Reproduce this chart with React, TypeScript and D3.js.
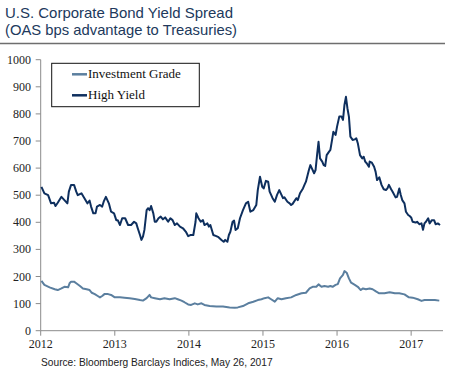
import React from 'react';
import * as d3 from 'd3';

// High Yield OAS (bps), dates as decimal years
const hyDates = [
  2012.01, 2012.05, 2012.10, 2012.14, 2012.18, 2012.20, 2012.23, 2012.28, 2012.32, 2012.36,
  2012.38, 2012.41, 2012.45, 2012.48, 2012.50, 2012.55, 2012.59, 2012.63, 2012.66, 2012.68,
  2012.71, 2012.74, 2012.76, 2012.80, 2012.83, 2012.85, 2012.88, 2012.92, 2012.95, 2012.99,
  2013.02, 2013.04, 2013.07, 2013.10, 2013.14, 2013.18, 2013.22, 2013.26, 2013.29, 2013.31,
  2013.34, 2013.36, 2013.38, 2013.40, 2013.43, 2013.45, 2013.47, 2013.49, 2013.52, 2013.54,
  2013.56, 2013.59, 2013.62, 2013.65, 2013.68, 2013.72, 2013.75, 2013.78, 2013.81, 2013.84,
  2013.88, 2013.92, 2013.96, 2013.99, 2014.02, 2014.06, 2014.09, 2014.10, 2014.13, 2014.16,
  2014.19, 2014.21, 2014.25, 2014.27, 2014.29, 2014.33, 2014.37, 2014.40, 2014.44, 2014.47,
  2014.49, 2014.52, 2014.54, 2014.56, 2014.59, 2014.61, 2014.63, 2014.66, 2014.69, 2014.73,
  2014.77, 2014.80, 2014.83, 2014.87, 2014.91, 2014.93, 2014.96, 2014.99, 2015.01, 2015.04,
  2015.07, 2015.09, 2015.13, 2015.16, 2015.19, 2015.22, 2015.25, 2015.27, 2015.29, 2015.33,
  2015.36, 2015.38, 2015.40, 2015.45, 2015.47, 2015.50, 2015.54, 2015.56, 2015.58, 2015.62,
  2015.64, 2015.66, 2015.69, 2015.71, 2015.73, 2015.75, 2015.77, 2015.80, 2015.82, 2015.84,
  2015.86, 2015.89, 2015.91, 2015.94, 2015.95, 2015.98, 2016.00, 2016.03, 2016.06, 2016.08,
  2016.10, 2016.12, 2016.14, 2016.16, 2016.18, 2016.21, 2016.24, 2016.26, 2016.28, 2016.31,
  2016.34, 2016.36, 2016.38, 2016.40, 2016.43, 2016.44, 2016.47, 2016.50, 2016.52, 2016.54,
  2016.57, 2016.60, 2016.63, 2016.66, 2016.68, 2016.70, 2016.73, 2016.75, 2016.79, 2016.81,
  2016.84, 2016.86, 2016.88, 2016.91, 2016.93, 2016.96, 2016.98, 2017.00, 2017.02, 2017.06,
  2017.08, 2017.11, 2017.14, 2017.16, 2017.18, 2017.20, 2017.23, 2017.25, 2017.28, 2017.31,
  2017.33, 2017.36, 2017.39,
];
const hyValues = [
  531, 507, 500, 470, 472, 460, 472, 494, 482, 470,
  513, 538, 538, 513, 500, 507, 489, 470, 480, 458,
  433, 433, 458, 464, 458, 476, 494, 470, 439, 433,
  408, 408, 390, 415, 415, 390, 390, 402, 396, 378,
  353, 335, 347, 372, 445, 452, 445, 460, 433, 402,
  402, 415, 421, 411, 418, 402, 415, 408, 390, 396,
  384, 378, 365, 349, 353, 353, 402, 433, 415, 402,
  408, 390, 396, 384, 390, 353, 349, 345, 335, 328,
  335, 328, 353, 365, 402, 406, 372, 378, 415, 445,
  470, 476, 439, 445, 464, 519, 568, 531, 525, 553,
  550, 513, 489, 476, 501, 519, 501, 489, 492, 476,
  470, 464, 468, 489, 482, 507, 525, 538, 550, 593,
  611, 599, 581, 593, 648, 697, 636, 624, 611, 608,
  648, 660, 667, 716, 734, 722, 753, 790, 790, 778,
  833, 863, 821, 790, 716, 704, 706, 710, 692, 648,
  636, 642, 624, 618, 605, 624, 620, 605, 587, 556,
  566, 538, 522, 519, 525, 538, 522, 513, 492, 494,
  525, 501, 482, 470, 439, 427, 423, 418, 402, 399,
  402, 393, 396, 372, 396, 402, 415, 396, 408, 408,
  393, 396, 390,
];

// Investment Grade OAS (bps)
const igDates = [
  2012.01, 2012.05, 2012.12, 2012.19, 2012.23, 2012.28, 2012.32, 2012.37, 2012.39, 2012.41,
  2012.45, 2012.48, 2012.53, 2012.57, 2012.62, 2012.66, 2012.69, 2012.73, 2012.77, 2012.80,
  2012.83, 2012.86, 2012.91, 2012.95, 2013.00, 2013.07, 2013.13, 2013.20, 2013.27, 2013.34,
  2013.38, 2013.43, 2013.47, 2013.49, 2013.54, 2013.61, 2013.67, 2013.74, 2013.81, 2013.85,
  2013.90, 2013.94, 2013.99, 2014.03, 2014.08, 2014.12, 2014.17, 2014.21, 2014.28, 2014.37,
  2014.46, 2014.55, 2014.62, 2014.66, 2014.73, 2014.80, 2014.87, 2014.93, 2014.98, 2015.02,
  2015.07, 2015.11, 2015.16, 2015.20, 2015.25, 2015.31, 2015.38, 2015.45, 2015.52, 2015.58,
  2015.63, 2015.67, 2015.72, 2015.75, 2015.79, 2015.83, 2015.88, 2015.91, 2015.94, 2015.98,
  2016.01, 2016.04, 2016.08, 2016.10, 2016.13, 2016.16, 2016.19, 2016.24, 2016.28, 2016.32,
  2016.35, 2016.39, 2016.44, 2016.48, 2016.53, 2016.57, 2016.64, 2016.71, 2016.78, 2016.84,
  2016.91, 2016.97, 2017.02, 2017.09, 2017.14, 2017.18, 2017.25, 2017.32, 2017.38,
];
const igValues = [
  184, 169, 160, 153, 150, 156, 162, 160, 175, 181,
  181, 175, 165, 156, 153, 150, 140, 135, 128, 123,
  128, 135, 135, 132, 123, 123, 122, 120, 117, 113,
  111, 120, 132, 123, 120, 116, 120, 116, 120, 116,
  111, 105, 97, 95, 101, 97, 101, 95, 91, 89,
  89, 86, 85, 86, 91, 101, 107, 113, 116, 120,
  123, 116, 107, 120, 116, 120, 123, 132, 138, 140,
  156, 162, 162, 171, 162, 165, 162, 165, 162, 169,
  172, 193, 206, 220, 214, 193, 177, 169, 162, 150,
  156, 153, 156, 153, 144, 138, 138, 142, 138, 138,
  134, 123, 122, 116, 110, 113, 113, 113, 111,
];

const yTicks = [0, 100, 200, 300, 400, 500, 600, 700, 800, 900, 1000];
const xTicks = [2012, 2013, 2014, 2015, 2016, 2017];
const seriesNames = ['Investment Grade', 'High Yield'];
const titleLines = ['U.S. Corporate Bond Yield Spread', '(OAS bps advantage to Treasuries)'];

const W = 450;
const H = 373;
const HY_COLOR = '#0e2f5e';
const IG_COLOR = '#5b7f9f';
const AXIS_COLOR = '#8c8c8c';
const SERIF = '"Liberation Serif", "DejaVu Serif", serif';

export default function App() {
  const x = d3.scaleLinear().domain([2012, 2017.43]).range([40.7, 443]);
  const y = d3.scaleLinear().domain([0, 1000]).range([330.7, 59.7]);

  const line = d3
    .line<[number, number]>()
    .x((d) => x(d[0]))
    .y((d) => y(d[1]))
    .curve(d3.curveLinear);

  const hyPath = line(hyDates.map((d, i) => [d, hyValues[i]]) as [number, number][]) || '';
  const igPath = line(igDates.map((d, i) => [d, igValues[i]]) as [number, number][]) || '';

  const legend = { x: 51.7, y: 63.3, w: 147.6, h: 43.4 };
  const legendColors = [IG_COLOR, HY_COLOR];
  const titleWidths = [228, 232];

  return (
    <svg
      width={W}
      height={H}
      viewBox={`0 0 ${W} ${H}`}
      style={{ position: 'absolute', left: 0, top: 0, background: '#fff' }}
    >
      {/* title */}
      <g fontFamily='"Liberation Sans", Arial, sans-serif' fill="#21395c" fontSize={14.6}>
        {titleLines.map((t, i) => (
          <text
            key={t}
            x={5}
            y={17.5 + i * 17.3}
            textLength={titleWidths[i]}
            lengthAdjust="spacingAndGlyphs"
          >
            {t}
          </text>
        ))}
      </g>
      <line x1={0} x2={445} y1={43.5} y2={43.5} stroke="#6e6e6e" strokeWidth={1.5} />

      {/* y axis */}
      <line x1={x.range()[0]} x2={x.range()[0]} y1={y(1000)} y2={y(0)} stroke={AXIS_COLOR} />
      {yTicks.map((t) => (
        <g key={t}>
          <line x1={x.range()[0] - 5} x2={x.range()[0]} y1={y(t)} y2={y(t)} stroke={AXIS_COLOR} />
          <text
            x={31}
            y={y(t) + 4}
            textAnchor="end"
            fontFamily={SERIF}
            fontSize={12}
            fill="#222"
          >
            {t}
          </text>
        </g>
      ))}

      {/* x axis */}
      <line x1={x.range()[0]} x2={x.range()[1]} y1={y(0)} y2={y(0)} stroke={AXIS_COLOR} />
      {xTicks.map((t) => (
        <g key={t}>
          <line x1={x(t)} x2={x(t)} y1={y(0)} y2={y(0) + 5} stroke={AXIS_COLOR} />
          <text
            x={x(t)}
            y={y(0) + 17}
            textAnchor="middle"
            fontFamily={SERIF}
            fontSize={12}
            fill="#222"
          >
            {t}
          </text>
        </g>
      ))}

      {/* series */}
      <path d={igPath} fill="none" stroke={IG_COLOR} strokeWidth={2} strokeLinejoin="round" />
      <path d={hyPath} fill="none" stroke={HY_COLOR} strokeWidth={2} strokeLinejoin="round" />

      {/* legend */}
      <rect
        x={legend.x}
        y={legend.y}
        width={legend.w}
        height={legend.h}
        fill="#fff"
        stroke="#111"
        strokeWidth={1}
      />
      {seriesNames.map((name, i) => {
        const ly = legend.y + 11 + i * 21;
        return (
          <g key={name}>
            <line x1={72} x2={87} y1={ly} y2={ly} stroke={legendColors[i]} strokeWidth={2.5} />
            <text x={88} y={ly + 4} fontFamily={SERIF} fontSize={13} fill="#111">
              {name}
            </text>
          </g>
        );
      })}

      {/* source */}
      <text
        x={41}
        y={366}
        fontFamily='"Liberation Sans", Arial, sans-serif'
        fontSize={10.2}
        fill="#222"
      >
        Source: Bloomberg Barclays Indices, May 26, 2017
      </text>
    </svg>
  );
}
